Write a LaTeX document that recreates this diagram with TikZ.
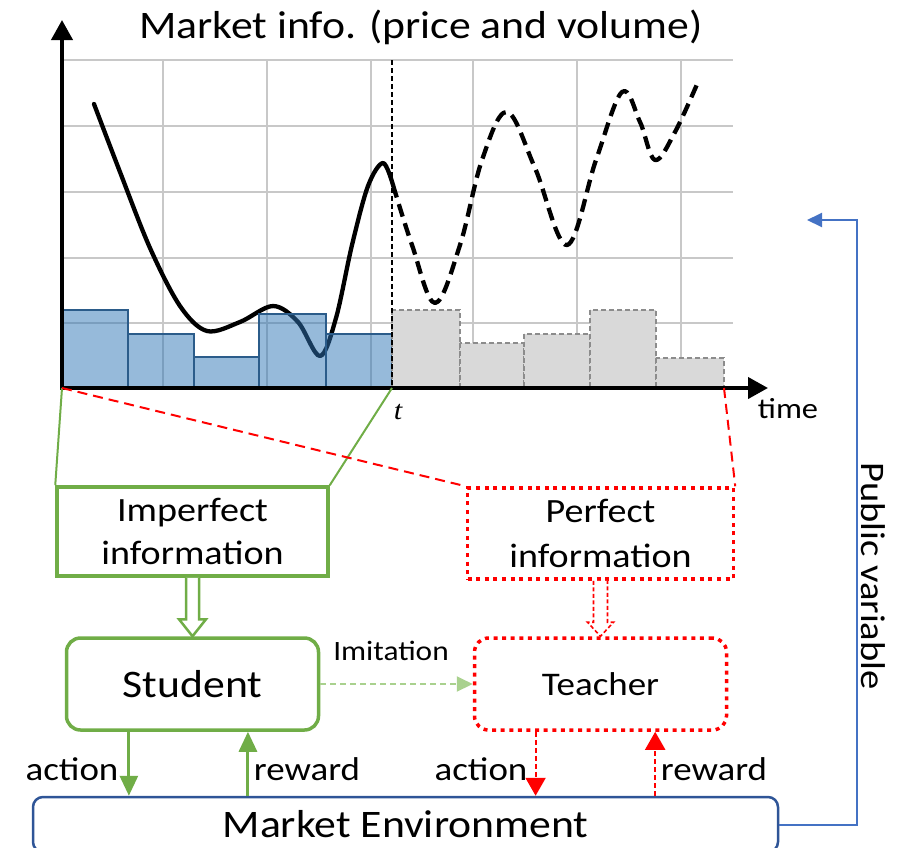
\documentclass[tikz,border=0pt]{standalone}
\usepackage{fontspec}
\setmainfont{Carlito}[FakeStretch=1.12]
\newfontfamily\serifit{Liberation Serif}[FakeStretch=1.12]
\usetikzlibrary{arrows.meta,calc}

\definecolor{ogreen}{HTML}{70AD47}
\definecolor{lgreen}{HTML}{A9D18E}
\definecolor{envblue}{HTML}{2F5597}
\definecolor{pvblue}{HTML}{4472C4}
\definecolor{barfill}{HTML}{2E75B6}
\definecolor{baredge}{HTML}{2B5C8A}
\definecolor{gridgray}{HTML}{C8C8C8}
\definecolor{futfill}{HTML}{D9D9D9}
\definecolor{futedge}{HTML}{8C8C8C}

\newcommand\fsz[2]{\fontsize{#1}{#2}\selectfont}

\tikzset{
  gridline/.style={draw=gridgray, line width=2pt},
  pricecurve/.style={draw=black, line width=4.3pt, line cap=round, line join=round},
  futurecurve/.style={pricecurve, line cap=butt, dash pattern=on 13pt off 7pt},
  pastbar/.style={fill=barfill, fill opacity=0.5, draw=baredge, line width=2pt},
  futurebar/.style={fill=futfill, draw=futedge, line width=1.6pt, dash pattern=on 5pt off 3pt},
  axisline/.style={draw=black, line width=4pt, {Triangle[length=20pt,width=21pt]}-{Triangle[length=20pt,width=21pt]}},
  infobox/.style={rectangle, inner sep=0pt, align=center, font=\fsz{34}{43}},
  greenbox/.style={infobox, draw=ogreen, line width=3.5pt},
  redbox/.style={infobox, draw=red, line width=3.5pt, dash pattern=on 4pt off 4.6pt},
  agentbox/.style={rectangle, rounded corners=14pt, inner sep=0pt, minimum width=252pt, minimum height=92pt},
  persgreen/.style={draw=ogreen, line width=2pt},
  persred/.style={draw=red, line width=2pt, dash pattern=on 10pt off 6pt},
  greenarr/.style={draw=ogreen, line width=3pt, -{Triangle[length=20pt,width=18pt]}, color=ogreen},
  redarr/.style={draw=red, line width=2pt, dash pattern=on 5pt off 3pt, -{Triangle[length=18pt,width=20pt]}, color=red},
  lbl/.style={inner sep=0pt, anchor=base, font=\fsz{33}{40}},
}

\begin{document}
\begin{tikzpicture}[x=1pt, y=-1pt]
\useasboundingbox (0,0) rectangle (912,847);
\clip (0,0) rectangle (912,847);

% ---------- chart: grid ----------
\foreach \y in {60,126,192,258,323}
  \draw[gridline] (62,\y) -- (733,\y);
\foreach \x in {163,267,371,473,577,681}
  \draw[gridline] (\x,60) -- (\x,388);

% ---------- price curve: observed part and future part ----------
\draw[pricecurve] plot[smooth, tension=0.55] coordinates {
  (94,104) (120,172) (150,248) (180,306) (207,331) (240,322) (273,306)
  (298,322) (320,356) (336,318) (352,245) (368,186) (383,163) (393,185)};
\draw[futurecurve] plot[smooth, tension=0.6] coordinates {
  (393,185) (412,245) (435,303) (460,245) (482,160) (507,112) (535,168)
  (567,245) (596,160) (622,92) (640,122) (655,160) (675,132) (698,82)};

% ---------- volume bars ----------
\foreach \a/\b/\h in {62/128/310, 128/194/334, 194/259/357, 259/326/314, 326/392/334}
  \draw[pastbar] (\a,\h) rectangle (\b,388);
\foreach \a/\b/\h in {392/460/310, 460/524/343, 524/590/334, 590/656/310, 656/724/358}
  \draw[futurebar] (\a,\h) rectangle (\b,388);

% current time marker
\draw[black, line width=1.5pt, dash pattern=on 5pt off 3pt] (392,60) -- (392,388);

% ---------- axes ----------
\coordinate (O) at (62,388);
\coordinate (T) at (392,388);
\coordinate (E) at (724,388);
\coordinate (ytip) at (62,20);
\coordinate (xtip) at (768,388);
\draw[axisline] (ytip) -- (O) -- (xtip);

\node[lbl, font=\fsz{39}{44}] (title) at (421,38) {Market info. (price and volume)};
\node[lbl, font=\fsz{29}{34}] (timelbl) at (788,418) {time};
\node[lbl, font=\serifit\itshape\fsz{27}{32}] (tlbl) at (398,419) {t};

% ---------- information boxes ----------
\node[greenbox, minimum width=271pt, minimum height=89pt] (imp) at (192.5,531.5) {Imperfect\\information};
\node[redbox, minimum width=266pt, minimum height=91pt, font=\fsz{34}{45}] (perf) at (600.5,533.5) {Perfect\\information};

% projection lines from the time axis to the boxes
\draw[persgreen] (O) -- (imp.north west);
\draw[persgreen] (T) -- (imp.north east);
\draw[persred] (O) -- (perf.north west);
\draw[persred] (E) -- (perf.north east);

% ---------- agents ----------
\node[agentbox, draw=ogreen, line width=3.5pt, font=\fsz{39}{44}] (stu) at (192.5,684) {Student};
\node[agentbox, draw=red, line width=3.5pt, dash pattern=on 4pt off 4.6pt, font=\fsz{33}{40}] (teach) at (600.5,684) {Teacher};

% hollow arrows from the information boxes to the agents
\draw[draw=ogreen, line width=2.5pt, line join=miter, fill=white]
  ($(imp.south)+(-6.5,0)$) -- ($(stu.north)+(-6.5,-17)$) -- ($(stu.north)+(-13.5,-17)$)
  -- (stu.north) -- ($(stu.north)+(13.5,-17)$) -- ($(stu.north)+(6.5,-17)$) -- ($(imp.south)+(6.5,0)$);
\draw[draw=red, line width=1.6pt, dash pattern=on 4pt off 2.5pt, line join=miter, fill=white]
  ($(perf.south)+(-7,0)$) -- ($(teach.north)+(-7,-14)$) -- ($(teach.north)+(-13,-14)$)
  -- (teach.north) -- ($(teach.north)+(13,-14)$) -- ($(teach.north)+(7,-14)$) -- ($(perf.south)+(7,0)$);

% imitation link
\draw[draw=lgreen, color=lgreen, line width=2pt, dash pattern=on 6pt off 4pt,
      -{Triangle[length=16pt,width=15pt]}] (stu.east) -- (teach.west);
\node[lbl, font=\fsz{28}{33}] (imit) at (391,660) {Imitation};

% ---------- market environment ----------
\node[rectangle, rounded corners=10pt, draw=envblue, line width=2.5pt, inner sep=0pt,
      minimum width=745pt, minimum height=55pt, font=\fsz{39}{44}] (env) at (405.5,824.5) {Market Environment};

% action / reward loops
\coordinate (sa) at ($(stu.south west)!0.251!(stu.south east)$);
\coordinate (sr) at ($(stu.south west)!0.717!(stu.south east)$);
\coordinate (ta) at ($(teach.south west)!0.246!(teach.south east)$);
\coordinate (tr) at ($(teach.south west)!0.714!(teach.south east)$);
\draw[greenarr] (sa) -- (sa |- env.north);
\draw[greenarr] (sr |- env.north) -- (sr);
\draw[redarr] (ta) -- (ta |- env.north);
\draw[redarr] (tr |- env.north) -- (tr);

\node[lbl] (sact) at (72,780) {action};
\node[lbl] (srew) at (307,780) {reward};
\node[lbl] (tact) at (481,780) {action};
\node[lbl] (trew) at (714,780) {reward};

% public variable feedback
\coordinate (pvcorner) at (857,220);
\coordinate (pvtip) at (807,220);
\draw[draw=pvblue, color=pvblue, line width=2pt, -{Triangle[length=15pt,width=14pt]}]
  (env.east) -| (pvcorner) -- (pvtip);
\node[rotate=-90, inner sep=0pt, font=\fsz{34.4}{40}] (pvlbl) at (873,576) {Public variable};

\end{tikzpicture}
\end{document}
